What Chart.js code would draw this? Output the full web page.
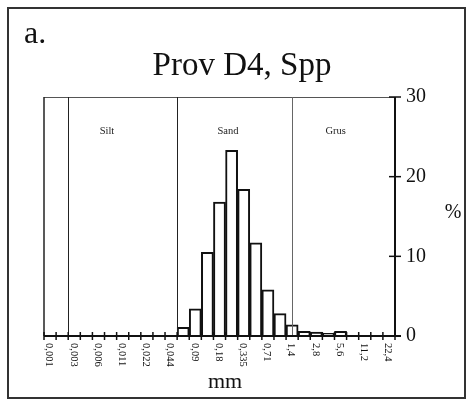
<!DOCTYPE html>
<html>
<head>
<meta charset="utf-8">
<script src="https://cdn.jsdelivr.net/npm/chart.js@4/dist/chart.umd.min.js"></script>
<style>
  html, body { margin: 0; padding: 0; background: #fff; }
  canvas { display: block; }
</style>
</head>
<body>
<canvas id="grainChart" width="468" height="401"></canvas>
<script>
// kornstorlek (mm), halv-phi klasser, bara varannan har etikett
const categories = ['0,001', '', '0,003', '', '0,006', '', '0,011', '', '0,022', '', '0,044', '',
    '0,09', '', '0,18', '', '0,335', '', '0,71', '', '1,4', '', '2,8', '', '5,6', '', '11,2', '', '22,4'];
// viktprocent per klass
const percent = [0, 0, 0, 0, 0, 0, 0, 0, 0, 0, 0,
    1.1, 3.4, 10.5, 16.8, 23.3, 18.4, 11.7, 5.8, 2.8, 1.4, 0.6, 0.5, 0.35, 0.6,
    0, 0, 0, 0];
const yTicks = [0, 10, 20, 30];
// fraktioner och gränser (kategoriindex)
const zoneNames = ['Silt', 'Sand', 'Grus'];
const zoneBounds = [1.5, 10.5, 20];

const serif = "'Liberation Serif', 'DejaVu Serif', serif";

const deco = {
    id: 'deco',
    beforeDraw(chart) {
        const ctx = chart.ctx;
        ctx.save();
        ctx.fillStyle = '#fff';
        ctx.fillRect(0, 0, chart.width, chart.height);
        ctx.restore();
    },
    afterDatasetsDraw(chart) {
        const ctx = chart.ctx;
        const x = chart.scales.x, y = chart.scales.y, a = chart.chartArea;
        ctx.save();

        // ram runt hela figuren
        ctx.strokeStyle = '#333';
        ctx.lineWidth = 2;
        ctx.strokeRect(8, 8, 457, 390);

        // tunn överkant och vänsterkant
        ctx.strokeStyle = '#555';
        ctx.lineWidth = 1;
        ctx.beginPath();
        ctx.moveTo(a.left, a.top + 0.5);
        ctx.lineTo(a.right, a.top + 0.5);
        ctx.stroke();
        ctx.strokeStyle = '#222';
        ctx.lineWidth = 1.5;
        ctx.beginPath();
        ctx.moveTo(a.left, a.top);
        ctx.lineTo(a.left, a.bottom);
        ctx.stroke();

        // gränslinjer silt / sand / grus
        ctx.lineWidth = 1;
        zoneBounds.forEach((b, i) => {
            const px = Math.round(x.getPixelForValue(b)) + 0.5;
            ctx.strokeStyle = i === 2 ? '#666' : '#222';
            ctx.beginPath();
            ctx.moveTo(px, a.top);
            ctx.lineTo(px, a.bottom);
            ctx.stroke();
        });
        ctx.fillStyle = '#222';
        ctx.font = '10.5px ' + serif;
        ctx.textAlign = 'center';
        ctx.textBaseline = 'alphabetic';
        [4.7, 14.7, 23.6].forEach((v, i) => {
            ctx.fillText(zoneNames[i], x.getPixelForValue(v), 134);
        });

        // axlar
        ctx.strokeStyle = '#111';
        ctx.lineWidth = 2;
        ctx.beginPath();
        ctx.moveTo(a.left, a.bottom);
        ctx.lineTo(a.right + 6, a.bottom);
        ctx.moveTo(a.right, a.top);
        ctx.lineTo(a.right, a.bottom);
        ctx.stroke();

        // y-streck korsar axeln
        ctx.lineWidth = 1.5;
        yTicks.forEach(t => {
            const py = y.getPixelForValue(t);
            ctx.beginPath();
            ctx.moveTo(a.right - 6, py);
            ctx.lineTo(a.right + 6, py);
            ctx.stroke();
        });

        // x-streck på varje klassgräns
        for (let k = 0; k <= categories.length; k++) {
            const px = x.getPixelForValue(k - 0.5);
            ctx.beginPath();
            ctx.moveTo(px, a.bottom - 4);
            ctx.lineTo(px, a.bottom + 4);
            ctx.stroke();
        }

        // x-etiketter, roterade
        ctx.fillStyle = '#111';
        ctx.font = '10.5px ' + serif;
        ctx.textAlign = 'left';
        ctx.textBaseline = 'middle';
        categories.forEach((lab, i) => {
            if (!lab) return;
            ctx.save();
            ctx.translate(x.getPixelForValue(i) - 1, a.bottom + 7);
            ctx.rotate(Math.PI / 2);
            ctx.fillText(lab, 0, 0);
            ctx.restore();
        });

        // texter
        ctx.textBaseline = 'alphabetic';
        ctx.font = '32px ' + serif;
        ctx.textAlign = 'left';
        ctx.fillText('a.', 24, 43);
        ctx.font = '33px ' + serif;
        ctx.textAlign = 'center';
        ctx.fillText('Prov D4, Spp', 242, 75);
        ctx.font = '22px ' + serif;
        ctx.fillText('mm', 225, 388);
        ctx.font = '20px ' + serif;
        ctx.fillText('%', 453, 218);

        ctx.restore();
    }
};

const ctx = document.getElementById('grainChart').getContext('2d');
new Chart(ctx, {
    type: 'bar',
    data: {
        labels: categories,
        datasets: [{
            label: '%',
            data: percent,
            backgroundColor: '#fff',
            borderColor: '#111',
            borderWidth: 2,
            barPercentage: 1,
            categoryPercentage: 1
        }]
    },
    options: {
        responsive: false,
        animation: false,
        devicePixelRatio: 1,
        layout: { padding: { left: 44, top: 97, right: 0, bottom: 0 } },
        plugins: {
            legend: { display: false },
            tooltip: { enabled: false },
            title: { display: false }
        },
        scales: {
            x: {
                grid: { display: false, drawTicks: false },
                border: { display: false },
                ticks: { display: false },
                afterFit(scale) { scale.height = 65; }
            },
            y: {
                position: 'right',
                min: 0,
                max: 30,
                grid: { display: false, drawTicks: false },
                border: { display: false },
                ticks: {
                    stepSize: 10,
                    padding: 11,
                    color: '#111',
                    font: { family: serif, size: 20 }
                },
                afterFit(scale) { scale.width = 73; }
            }
        }
    },
    plugins: [deco]
});
</script>
</body>
</html>
